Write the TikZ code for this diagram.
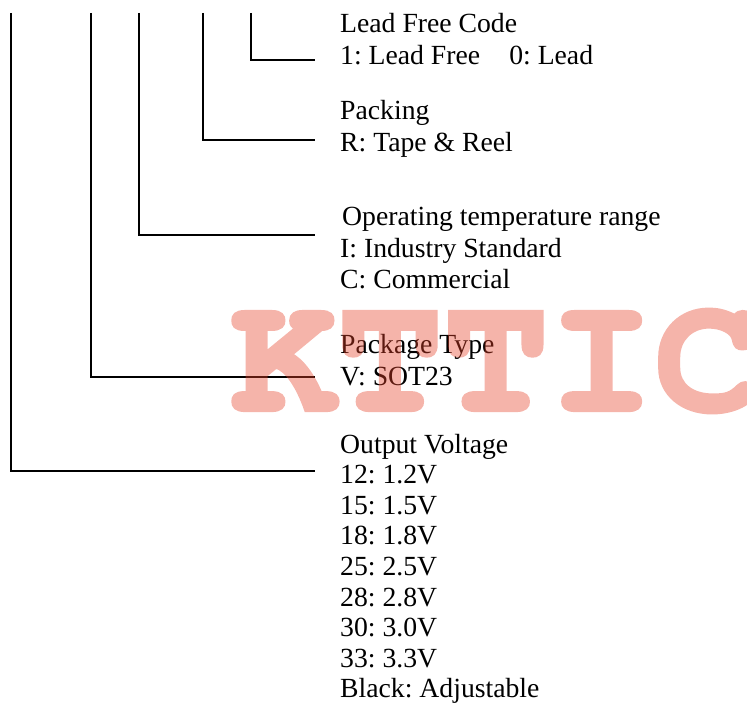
\documentclass[tikz,border=0pt]{standalone}
\usepackage{fontspec}
\setmainfont{Liberation Serif}
\newfontfamily\markface{texgyrecursor-bold.otf}[FakeBold=2.5]
\definecolor{markred}{RGB}{230,67,42}
\tikzstyle{entry} = [anchor=base west, inner sep=0pt,
    font=\fontsize{27.7}{31}\selectfont]
\tikzstyle{lead} = [draw, line width=1.5pt]
\tikzstyle{stamp} = [anchor=base west, inner sep=0pt, text=markred,
    xscale=1.05, transform shape, font=\markface\fontsize{168}{168}\selectfont]
\frenchspacing
\begin{document}
\begin{tikzpicture}[x=1pt, y=-1pt]
    \useasboundingbox (0,0) rectangle (747,709);
    % Place nodes
    \node [entry] (lfTitle) at (340,33) {Lead Free Code};
    \node [entry] (lfCode) at (340,65) {1: Lead Free\hspace{0.8em} 0: Lead};
    \node [entry] (pkTitle) at (340,119) {Packing};
    \node [entry] (pkCode) at (340,151) {R: Tape \& Reel};
    \node [entry] (otTitle) at (342,225) {Operating temperature range};
    \node [entry] (otInd) at (340,257) {I: Industry Standard};
    \node [entry] (otCom) at (340,288) {C: Commercial};
    \node [entry] (ptTitle) at (340,353) {Package Type};
    \node [entry] (ptSot) at (340,385) {V: SOT23};
    \node [entry] (ovTitle) at (340,453) {Output Voltage};
    \foreach \code/\volt [count=\i] in {12/1.2V, 15/1.5V, 18/1.8V, 25/2.5V,
        28/2.8V, 30/3.0V, 33/3.3V, Black/Adjustable}
        \node [entry] (ov\i) at (340,{453+30.6*\i}) {\code: \volt};
    % Lead lines
    \coordinate (lfTop) at (251,13);
    \coordinate (lfEnd) at (315,60);
    \coordinate (pkTop) at (203,13);
    \coordinate (pkEnd) at (315,140);
    \coordinate (otTop) at (139,13);
    \coordinate (otEnd) at (315,235);
    \coordinate (ptTop) at (91,13);
    \coordinate (ptEnd) at (315,377);
    \coordinate (ovTop) at (11,13);
    \coordinate (ovEnd) at (315,471);
    % Draw edges
    \path [lead] (lfTop) |- (lfEnd);
    \path [lead] (pkTop) |- (pkEnd);
    \path [lead] (otTop) |- (otEnd);
    \path [lead] (ptTop) |- (ptEnd);
    \path [lead] (ovTop) |- (ovEnd);
    % Watermark
    \begin{scope}[transparency group, opacity=0.4]
        \node [stamp] (mark) at (231,410) {KTTIC};
    \end{scope}
\end{tikzpicture}
\end{document}
